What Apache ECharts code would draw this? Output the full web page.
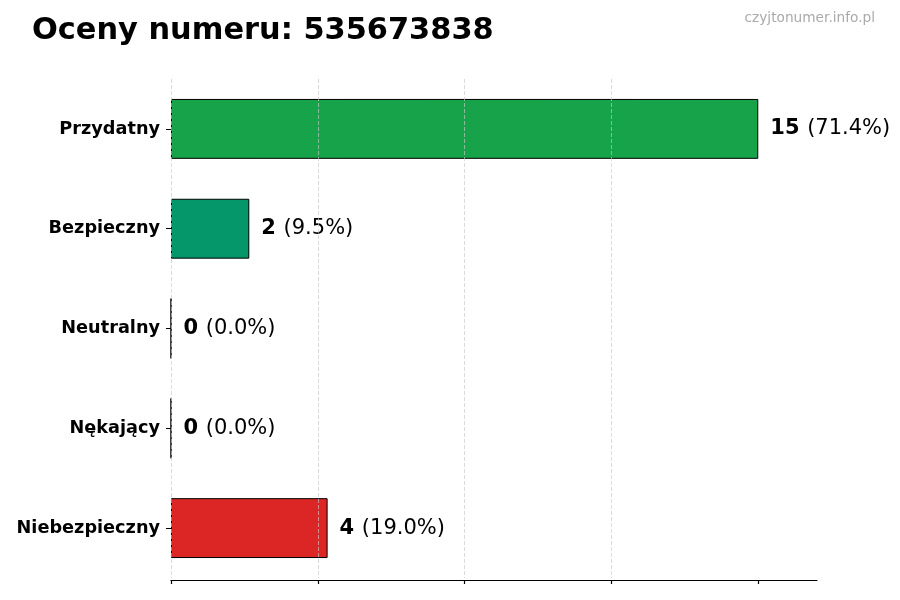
<!DOCTYPE html>
<html><head><meta charset="utf-8">
<script src="https://cdn.jsdelivr.net/npm/echarts@6/dist/echarts.min.js"></script>
<style>html,body{margin:0;padding:0;background:#fff}#c{width:900px;height:600px}</style>
</head><body><div id="c"></div>
<script>
const categories = ['Przydatny', 'Bezpieczny', 'Neutralny', 'Nękający', 'Niebezpieczny'];
const counts = [15, 2, 0, 0, 4];
const percents = ['71.4%', '9.5%', '0.0%', '0.0%', '19.0%'];
const colors = ['#16a34a', '#059669', '#6b7280', '#f97316', '#dc2626'];
const tickValues = [0, 3.75, 7.5, 11.25, 15];
const titleText = 'Oceny numeru: 535673838';
const watermark = 'czyjtonumer.info.pl';

const F = 'DejaVu Sans';
const chart = echarts.init(document.getElementById('c'), null, {renderer: 'canvas'});
chart.setOption({
  animation: false,
  textStyle: {fontFamily: F},
  title: [
    {text: titleText, left: 27, top: 11, textStyle: {fontFamily: F, fontSize: 30.4, fontWeight: 'bold', color: '#000'}},
    {text: watermark, right: 20, top: 6, textStyle: {fontFamily: F, fontSize: 13.7, fontWeight: 'normal', color: '#aaaaaa'}}
  ],
  grid: {left: 171, right: 83, top: 79, bottom: 22, containLabel: false},
  xAxis: {
    type: 'value', min: 0, max: 16.5, interval: 3.75, offset: 2, z: 5,
    axisLine: {show: true, lineStyle: {color: '#000', width: 1.2}},
    axisTick: {show: true, length: 4, lineStyle: {color: '#000', width: 1.2}, customValues: tickValues},
    axisLabel: {show: false},
    splitLine: {show: true, showMaxLine: false, lineStyle: {color: 'rgba(200,200,200,0.65)', type: [4, 2], width: 1}}
  },
  yAxis: {
    type: 'category', data: categories, inverse: true,
    axisLine: {show: false},
    axisTick: {show: true, alignWithLabel: true, length: 5, lineStyle: {color: '#000', width: 1}},
    axisLabel: {margin: 11, fontFamily: F, fontSize: 17.7, fontWeight: 'bold', color: '#000'}
  },
  series: [{
    type: 'bar', barWidth: '60%',
    data: counts.map((v, i) => ({value: v, itemStyle: {color: colors[i]}})),
    itemStyle: {borderColor: '#000', borderWidth: 1},
    label: {
      show: true, position: 'right', distance: 12,
      formatter: p => '{b|' + counts[p.dataIndex] + '}  {n|(' + percents[p.dataIndex] + ')}',
      rich: {
        b: {fontFamily: F, fontSize: 21, fontWeight: 'bold', color: '#000'},
        n: {fontFamily: F, fontSize: 21, color: '#000'}
      }
    }
  }]
});
</script></body></html>
